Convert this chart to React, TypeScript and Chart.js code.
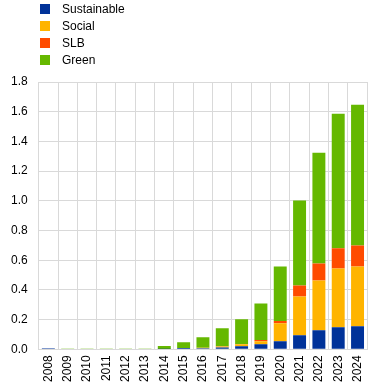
import React, { useEffect, useRef } from "react";
import { Chart, registerables } from "chart.js";

Chart.register(...registerables);

const years = ["2008","2009","2010","2011","2012","2013","2014","2015","2016","2017","2018","2019","2020","2021","2022","2023","2024"];
const sustainable = [0.007,0,0,0,0,0,0.002,0.008,0.007,0.012,0.02,0.034,0.054,0.094,0.128,0.148,0.155];
const social = [0,0,0,0,0,0,0,0,0.004,0.007,0.014,0.02,0.121,0.262,0.336,0.396,0.403];
const slb = [0,0,0,0,0,0,0,0,0,0.001,0.002,0.009,0.015,0.074,0.114,0.137,0.141];
const green = [0,0.005,0.005,0.005,0.005,0.005,0.02,0.039,0.07,0.121,0.166,0.246,0.368,0.572,0.746,0.906,0.948];
const yTicks = [0,0.2,0.4,0.6,0.8,1.0,1.2,1.4,1.6,1.8];

const seriesNames = ["Sustainable","Social","SLB","Green"];
const seriesColors = ["#003299","#FFB400","#FF4B00","#65B800"];

export default function App() {
  const ref = useRef<HTMLCanvasElement>(null);
  useEffect(() => {
    const font = { family: "Arial, 'Liberation Sans', sans-serif", size: 12 };
    const data = [sustainable, social, slb, green];
    const chart = new Chart(ref.current!, {
      type: "bar",
      data: {
        labels: years,
        datasets: seriesNames.map((n, i) => ({
          label: n,
          data: data[i],
          backgroundColor: seriesColors[i],
          borderWidth: 0,
          categoryPercentage: 1,
          barPercentage: 0.67,
        })),
      },
      options: {
        animation: false,
        responsive: false,
        maintainAspectRatio: false,
        layout: { padding: { top: 82, right: 2, left: 0, bottom: 2 } },
        plugins: { legend: { display: false }, tooltip: { enabled: false } },
        scales: {
          x: {
            stacked: true,
            grid: { color: "#d9d9d9", drawTicks: false, offset: true },
            border: { color: "#d9d9d9" },
            ticks: { font, color: "#000", minRotation: 90, maxRotation: 90, padding: 6 },
          },
          y: {
            stacked: true,
            min: 0,
            max: 1.8,
            afterBuildTicks: (axis: any) => { axis.ticks = yTicks.map((v) => ({ value: v })); },
            grid: { color: "#d9d9d9", drawTicks: false },
            border: { color: "#d9d9d9" },
            ticks: { font, color: "#000", padding: 11, callback: (v: any) => Number(v).toFixed(1) },
          },
        },
      },
    });
    return () => chart.destroy();
  }, []);
  return (
    <div style={{ position: "fixed", left: 0, top: 0, width: 372, height: 390, background: "#fff", overflow: "hidden" }}>
      <canvas ref={ref} width={378} height={390} style={{ position: "absolute", left: 0, top: 0 }} />
      <div style={{ position: "absolute", left: 40, top: 0, fontFamily: "Arial, 'Liberation Sans', sans-serif", fontSize: 12, color: "#000" }}>
        {seriesNames.map((n, i) => (
          <div key={n} style={{ display: "flex", alignItems: "center", height: 17 }}>
            <span style={{ display: "inline-block", width: 10, height: 10, background: seriesColors[i], marginRight: 12 }} />
            <span>{n}</span>
          </div>
        ))}
      </div>
    </div>
  );
}
